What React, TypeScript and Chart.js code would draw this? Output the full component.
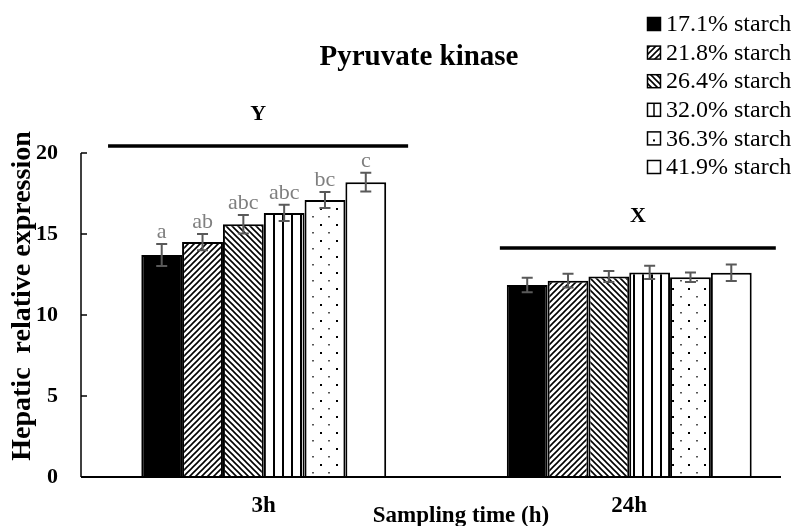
import React, { useEffect, useRef } from 'react';
import { Chart, registerables } from 'chart.js';

Chart.register(...registerables);

const FONT = '"Liberation Serif", "Times New Roman", Times, serif';

const categories = ['3h', '24h'];
const seriesLabels = ['17.1% starch', '21.8% starch', '26.4% starch', '32.0% starch', '36.3% starch', '41.9% starch'];
const starch17_1 = [13.7, 11.85];
const starch21_8 = [14.5, 12.12];
const starch26_4 = [15.6, 12.37];
const starch32_0 = [16.3, 12.63];
const starch36_3 = [17.1, 12.33];
const starch41_9 = [18.2, 12.61];
const sem17_1 = [0.68, 0.45];
const sem21_8 = [0.5, 0.43];
const sem26_4 = [0.57, 0.34];
const sem32_0 = [0.5, 0.41];
const sem36_3 = [0.5, 0.3];
const sem41_9 = [0.58, 0.51];
const letters3h = ['a', 'ab', 'abc', 'abc', 'bc', 'c'];
const yTickValues = [0, 5, 10, 15, 20];
const groupLetters = ['Y', 'X'];
const groupLineLevel = [20.43, 14.14];
const groupLineFrom = [-0.426, 0.646];
const groupLineTo = [0.395, 1.401];

const seriesValues = [starch17_1, starch21_8, starch26_4, starch32_0, starch36_3, starch41_9];
const seriesErrors = [sem17_1, sem21_8, sem26_4, sem32_0, sem36_3, sem41_9];
const seriesKinds = ['solid', 'fwd', 'back', 'vert', 'dots', 'white'];

function makeTile(w: number, h: number, draw: (c: CanvasRenderingContext2D) => void) {
  const t = document.createElement('canvas');
  t.width = w;
  t.height = h;
  const c = t.getContext('2d')!;
  c.fillStyle = '#fff';
  c.fillRect(0, 0, w, h);
  draw(c);
  const ctx = document.createElement('canvas').getContext('2d')!;
  return ctx.createPattern(t, 'repeat')!;
}

function makeFill(kind: string): any {
  if (kind === 'solid') return '#000';
  if (kind === 'white') return '#fff';
  if (kind === 'fwd')
    return makeTile(6, 6, (c) => {
      c.strokeStyle = '#000';
      c.lineWidth = 1.6;
      c.beginPath();
      c.moveTo(0, 6); c.lineTo(6, 0);
      c.moveTo(-3, 3); c.lineTo(3, -3);
      c.moveTo(3, 9); c.lineTo(9, 3);
      c.stroke();
    });
  if (kind === 'back')
    return makeTile(6, 6, (c) => {
      c.strokeStyle = '#000';
      c.lineWidth = 1.6;
      c.beginPath();
      c.moveTo(0, 0); c.lineTo(6, 6);
      c.moveTo(-3, 3); c.lineTo(3, 9);
      c.moveTo(3, -3); c.lineTo(9, 3);
      c.stroke();
    });
  if (kind === 'vert')
    return makeTile(9, 4, (c) => {
      c.fillStyle = '#000';
      c.fillRect(3, 0, 2, 4);
    });
  if (kind === 'dots')
    return makeTile(16, 16, (c) => {
      c.fillStyle = '#000';
      c.fillRect(0, 0, 2, 2);
      c.fillStyle = '#555';
      c.fillRect(8, 8, 2, 1.5);
    });
  return '#fff';
}

export default function App() {
  const ref = useRef<HTMLCanvasElement>(null);

  useEffect(() => {
    document.body.style.margin = '0';
    const canvas = ref.current!;
    const fills = seriesKinds.map(makeFill);

    const custom = {
      id: 'custom',
      beforeDraw(chart: any) {
        const { ctx } = chart;
        ctx.save();
        ctx.fillStyle = '#fff';
        ctx.fillRect(0, 0, chart.width, chart.height);
        ctx.restore();
      },
      afterDatasetsDraw(chart: any) {
        const { ctx } = chart;
        const yS = chart.scales.y;
        ctx.save();
        seriesValues.forEach((vals, i) => {
          const meta = chart.getDatasetMeta(i);
          vals.forEach((v, j) => {
            const bar = meta.data[j];
            const e = seriesErrors[i][j];
            const x = bar.x;
            const yt = yS.getPixelForValue(v + e);
            const yb = yS.getPixelForValue(v - e);
            ctx.strokeStyle = '#595959';
            ctx.lineWidth = 2;
            ctx.beginPath();
            ctx.moveTo(x, yt); ctx.lineTo(x, yb);
            ctx.moveTo(x - 5.5, yt); ctx.lineTo(x + 5.5, yt);
            ctx.moveTo(x - 5.5, yb); ctx.lineTo(x + 5.5, yb);
            ctx.stroke();
            if (j === 0) {
              ctx.fillStyle = '#7f7f7f';
              ctx.font = `22px ${FONT}`;
              ctx.textAlign = 'center';
              ctx.textBaseline = 'alphabetic';
              ctx.fillText(letters3h[i], x, yt - 6);
            }
          });
        });
        ctx.restore();
      },
      afterDraw(chart: any) {
        const { ctx, chartArea } = chart;
        const xS = chart.scales.x;
        const yS = chart.scales.y;
        ctx.save();
        // axes
        ctx.strokeStyle = '#000';
        ctx.lineWidth = 1.5;
        ctx.beginPath();
        ctx.moveTo(chartArea.left, yS.getPixelForValue(20));
        ctx.lineTo(chartArea.left, yS.getPixelForValue(0));
        ctx.stroke();
        yTickValues.forEach((v) => {
          const py = yS.getPixelForValue(v);
          ctx.beginPath();
          ctx.moveTo(chartArea.left, py);
          ctx.lineTo(chartArea.left + 6, py);
          ctx.stroke();
        });
        ctx.lineWidth = 2;
        ctx.beginPath();
        ctx.moveTo(chartArea.left, yS.getPixelForValue(0));
        ctx.lineTo(781, yS.getPixelForValue(0));
        ctx.stroke();
        // group lines
        groupLetters.forEach((g, i) => {
          const x1 = xS.getPixelForValue(groupLineFrom[i]);
          const x2 = xS.getPixelForValue(groupLineTo[i]);
          const py = yS.getPixelForValue(groupLineLevel[i]);
          ctx.strokeStyle = '#000';
          ctx.lineWidth = 3.5;
          ctx.beginPath();
          ctx.moveTo(x1, py); ctx.lineTo(x2, py);
          ctx.stroke();
          ctx.fillStyle = '#000';
          ctx.font = `bold 22px ${FONT}`;
          ctx.textAlign = 'center';
          ctx.textBaseline = 'middle';
          ctx.fillText(g, (x1 + x2) / 2, py - 32);
        });
        // title
        ctx.fillStyle = '#000';
        ctx.font = `bold 29px ${FONT}`;
        ctx.textAlign = 'center';
        ctx.textBaseline = 'alphabetic';
        ctx.fillText('Pyruvate kinase', 419, 65);
        // x title
        ctx.font = `bold 23px ${FONT}`;
        ctx.fillText('Sampling time (h)', 461, 522);
        // y title
        ctx.save();
        ctx.translate(30, 296);
        ctx.rotate(-Math.PI / 2);
        ctx.font = `bold 28px ${FONT}`;
        ctx.textAlign = 'center';
        ctx.textBaseline = 'alphabetic';
        ctx.fillText('Hepatic  relative expression', 0, 0);
        ctx.restore();
        // legend
        seriesLabels.forEach((lab, i) => {
          const cy = 24 + 28.6 * i;
          const bx = 647.5;
          const by = cy - 6.5;
          const kind = seriesKinds[i];
          ctx.fillStyle = kind === 'solid' ? '#000' : kind === 'back' ? fills[2] : kind === 'fwd' ? fills[1] : '#fff';
          ctx.fillRect(bx, by, 13, 13);
          ctx.strokeStyle = '#000';
          ctx.lineWidth = 1.5;
          if (kind === 'vert') {
            ctx.beginPath();
            ctx.moveTo(bx + 6.5, by); ctx.lineTo(bx + 6.5, by + 13);
            ctx.stroke();
          }
          if (kind === 'dots') {
            ctx.fillStyle = '#000';
            ctx.fillRect(bx + 5.5, by + 7.5, 2, 2);
          }
          ctx.strokeRect(bx, by, 13, 13);
          ctx.fillStyle = '#000';
          ctx.font = `24px ${FONT}`;
          ctx.textAlign = 'left';
          ctx.textBaseline = 'middle';
          ctx.fillText(lab, 666, cy + 1);
        });
        ctx.restore();
      },
    };

    const chart = new Chart(canvas, {
      type: 'bar',
      data: {
        labels: categories,
        datasets: seriesValues.map((vals, i) => ({
          label: seriesLabels[i],
          data: vals,
          backgroundColor: fills[i],
          borderColor: '#000',
          borderWidth: 2,
          barPercentage: 1,
          categoryPercentage: 0.67,
        })),
      },
      options: {
        responsive: false,
        animation: false,
        layout: { padding: { top: 153, right: 18, left: 0, bottom: 0 } },
        plugins: { legend: { display: false }, tooltip: { enabled: false }, title: { display: false } },
        scales: {
          x: {
            type: 'category',
            offset: true,
            grid: { display: false, drawTicks: false },
            border: { display: false },
            ticks: { color: '#000', font: { family: FONT, size: 23, weight: 'bold' }, padding: 15 },
            afterFit: (s: any) => { s.height = 49; },
          },
          y: {
            min: 0,
            max: 20,
            grid: { display: false, drawTicks: false },
            border: { display: false },
            ticks: { stepSize: 5, color: '#000', font: { family: FONT, size: 22, weight: 'bold' }, padding: 23 },
            afterFit: (s: any) => { s.width = 81; },
          },
        },
      },
      plugins: [custom],
    } as any);

    return () => chart.destroy();
  }, []);

  return (
    <div style={{ width: 804, height: 526, overflow: 'hidden', position: 'relative', background: '#fff' }}>
      <canvas ref={ref} width={830} height={526} style={{ display: 'block', width: 830, height: 526 }} />
    </div>
  );
}
